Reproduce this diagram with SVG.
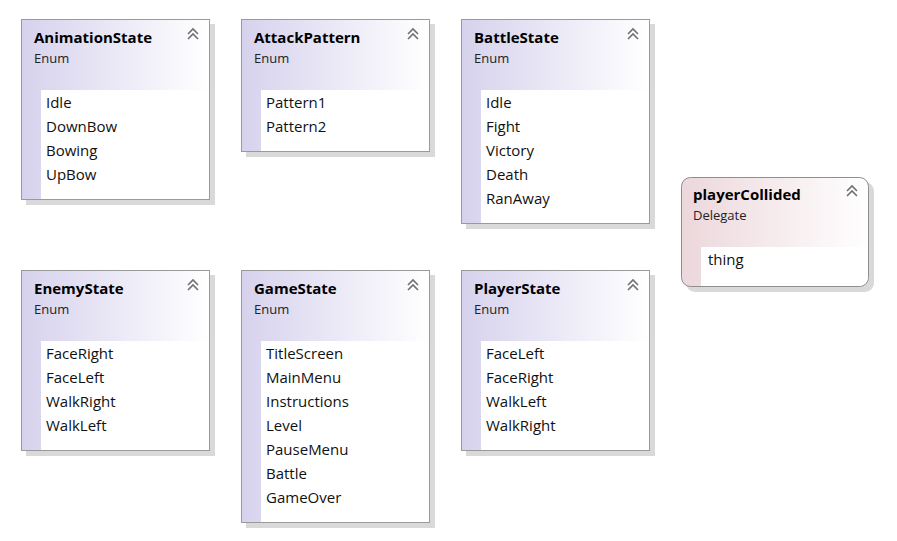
<svg xmlns="http://www.w3.org/2000/svg" width="897" height="541" viewBox="0 0 897 541">
<defs>
<linearGradient id="gEnum" x1="0" y1="0" x2="1" y2="0">
<stop offset="0" stop-color="#d6d2ed"/>
<stop offset="1" stop-color="#ffffff"/>
</linearGradient>
<linearGradient id="gDel" x1="0" y1="0" x2="1" y2="0">
<stop offset="0" stop-color="#ecd7db"/>
<stop offset="1" stop-color="#ffffff"/>
</linearGradient>
<g id="chev">
<path d="M-5,4 L0,-1 L5,4 M-5,9 L0,4 L5,9" fill="none" stroke="#707070" stroke-width="1.6"/>
</g>
</defs>
<style>
.shadow{fill:#d9d9d9}
.box{fill:url(#gEnum);stroke:#9a9a98;stroke-width:1}
.strip{fill:#dcd8ef}
.body{fill:#ffffff}
.dbox{fill:url(#gDel);stroke:#8e8e8e;stroke-width:1}
.dstrip{fill:#efdfe2}
.title{font-family:"Open Sans","Noto Sans",sans-serif;font-weight:bold;font-size:15px;fill:#000}
.kind{font-family:"Open Sans","Noto Sans",sans-serif;font-size:13px;fill:#222}
.item{font-family:"Open Sans","Noto Sans",sans-serif;font-size:15px;fill:#111}
</style>
<rect width="897" height="541" fill="#ffffff"/>

<g id="AnimationState">
<rect class="shadow" x="26" y="24" width="189" height="181"/>
<rect class="box" x="21.5" y="19.5" width="188" height="180"/>
<rect class="body" x="41" y="90" width="168" height="109"/>
<text class="title" x="34" y="43">AnimationState</text>
<text class="kind" x="34" y="63">Enum</text>
<use href="#chev" x="193" y="30"/>
<text class="item" x="46" y="108">Idle</text>
<text class="item" x="46" y="132">DownBow</text>
<text class="item" x="46" y="156">Bowing</text>
<text class="item" x="46" y="180">UpBow</text>
</g>

<g id="AttackPattern">
<rect class="shadow" x="246" y="24" width="189" height="133"/>
<rect class="box" x="241.5" y="19.5" width="188" height="132"/>
<rect class="body" x="261" y="90" width="168" height="61"/>
<text class="title" x="254" y="43">AttackPattern</text>
<text class="kind" x="254" y="63">Enum</text>
<use href="#chev" x="413" y="30"/>
<text class="item" x="266" y="108">Pattern1</text>
<text class="item" x="266" y="132">Pattern2</text>
</g>

<g id="BattleState">
<rect class="shadow" x="466" y="24" width="189" height="205"/>
<rect class="box" x="461.5" y="19.5" width="188" height="204"/>
<rect class="body" x="481" y="90" width="168" height="133"/>
<text class="title" x="474" y="43">BattleState</text>
<text class="kind" x="474" y="63">Enum</text>
<use href="#chev" x="633" y="30"/>
<text class="item" x="486" y="108">Idle</text>
<text class="item" x="486" y="132">Fight</text>
<text class="item" x="486" y="156">Victory</text>
<text class="item" x="486" y="180">Death</text>
<text class="item" x="486" y="204">RanAway</text>
</g>

<g id="playerCollided">
<rect class="shadow" x="686" y="182" width="188" height="110" rx="9"/>
<rect class="dbox" x="681.5" y="177.5" width="187" height="109" rx="9"/>
<path class="body" d="M701,247 H868 V277 A9,9 0 0 1 859,286 H701 Z"/>
<text class="title" x="693" y="200">playerCollided</text>
<text class="kind" x="693" y="220">Delegate</text>
<use href="#chev" x="852" y="187"/>
<text class="item" x="708" y="265">thing</text>
</g>

<g id="EnemyState">
<rect class="shadow" x="26" y="275" width="189" height="181"/>
<rect class="box" x="21.5" y="270.5" width="188" height="180"/>
<rect class="body" x="41" y="341" width="168" height="109"/>
<text class="title" x="34" y="294">EnemyState</text>
<text class="kind" x="34" y="314">Enum</text>
<use href="#chev" x="193" y="281"/>
<text class="item" x="46" y="359">FaceRight</text>
<text class="item" x="46" y="383">FaceLeft</text>
<text class="item" x="46" y="407">WalkRight</text>
<text class="item" x="46" y="431">WalkLeft</text>
</g>

<g id="GameState">
<rect class="shadow" x="246" y="275" width="189" height="253"/>
<rect class="box" x="241.5" y="270.5" width="188" height="252"/>
<rect class="body" x="261" y="341" width="168" height="181"/>
<text class="title" x="254" y="294">GameState</text>
<text class="kind" x="254" y="314">Enum</text>
<use href="#chev" x="413" y="281"/>
<text class="item" x="266" y="359">TitleScreen</text>
<text class="item" x="266" y="383">MainMenu</text>
<text class="item" x="266" y="407">Instructions</text>
<text class="item" x="266" y="431">Level</text>
<text class="item" x="266" y="455">PauseMenu</text>
<text class="item" x="266" y="479">Battle</text>
<text class="item" x="266" y="503">GameOver</text>
</g>

<g id="PlayerState">
<rect class="shadow" x="466" y="275" width="189" height="181"/>
<rect class="box" x="461.5" y="270.5" width="188" height="180"/>
<rect class="body" x="481" y="341" width="168" height="109"/>
<text class="title" x="474" y="294">PlayerState</text>
<text class="kind" x="474" y="314">Enum</text>
<use href="#chev" x="633" y="281"/>
<text class="item" x="486" y="359">FaceLeft</text>
<text class="item" x="486" y="383">FaceRight</text>
<text class="item" x="486" y="407">WalkLeft</text>
<text class="item" x="486" y="431">WalkRight</text>
</g>

<g id="connectors"></g>
</svg>
